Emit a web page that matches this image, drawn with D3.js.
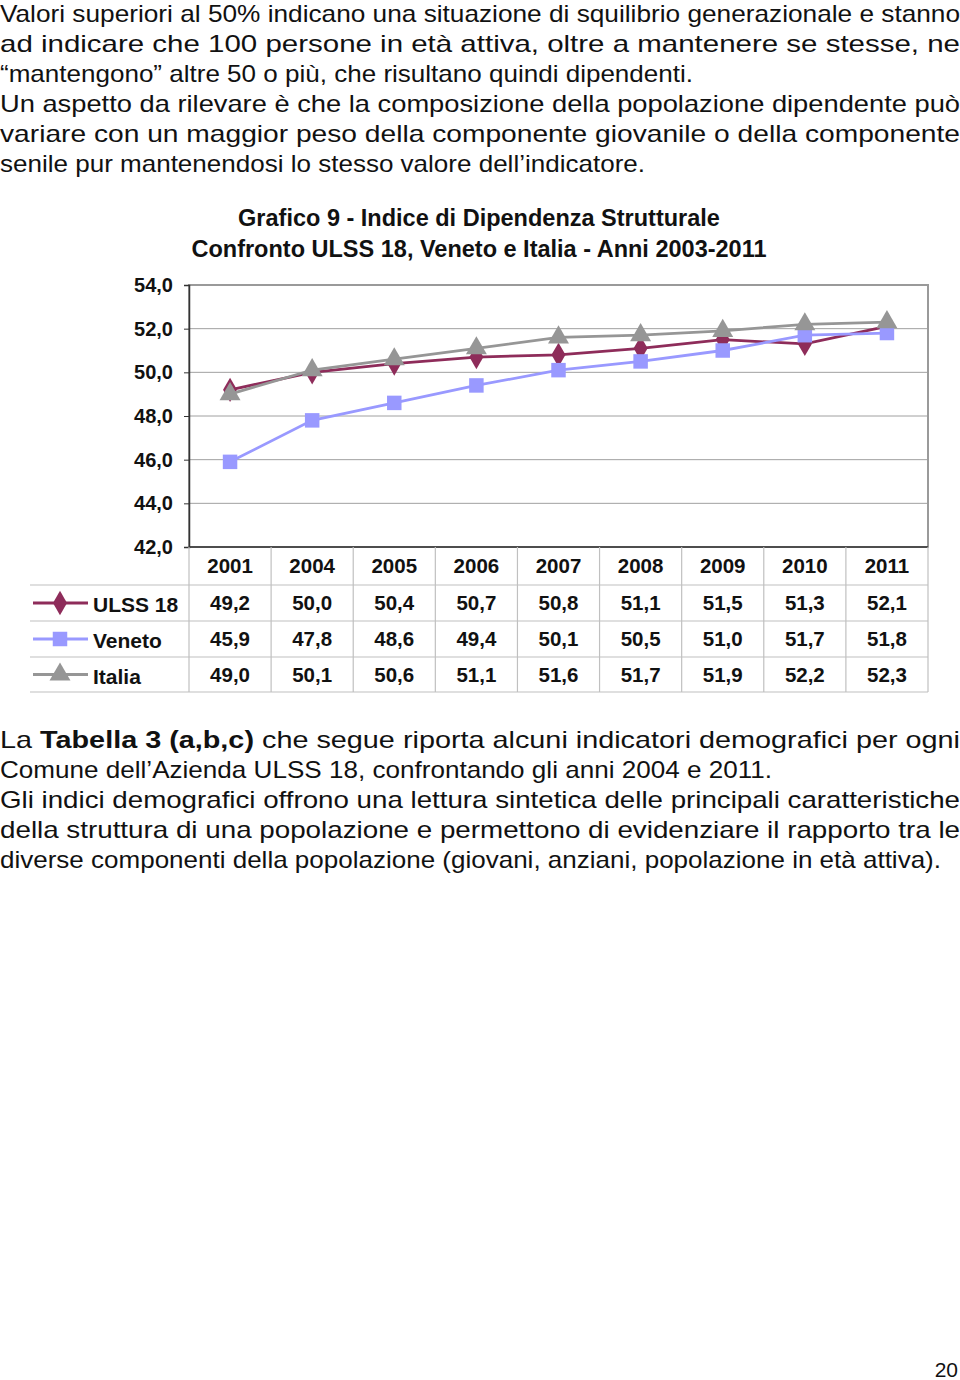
<!DOCTYPE html>
<html><head><meta charset="utf-8">
<script src="https://cdn.jsdelivr.net/npm/d3@7"></script>
<style>
html,body{margin:0;padding:0;background:#fff;}
svg{display:block;font-family:"Liberation Sans",Arial,sans-serif;}
</style></head>
<body>
<svg id="c" width="960" height="1380"></svg>
<script>
const years = ["2001","2004","2005","2006","2007","2008","2009","2010","2011"];
const seriesNames = ["ULSS 18","Veneto","Italia"];
const ulss18 = [49.2,50.0,50.4,50.7,50.8,51.1,51.5,51.3,52.1];
const veneto = [45.9,47.8,48.6,49.4,50.1,50.5,51.0,51.7,51.8];
const italia = [49.0,50.1,50.6,51.1,51.6,51.7,51.9,52.2,52.3];
const yTicks = [42,44,46,48,50,52,54];
const titleLines = ["Grafico 9 - Indice di Dipendenza Strutturale","Confronto ULSS 18, Veneto e Italia - Anni 2003-2011"];
const para1 = [
 ["Valori superiori al 50% indicano una situazione di squilibrio generazionale e stanno",960],
 ["ad indicare che 100 persone in età attiva, oltre a mantenere se stesse, ne",960],
 ["“mantengono” altre 50 o più, che risultano quindi dipendenti.",693],
 ["Un aspetto da rilevare è che la composizione della popolazione dipendente può",960],
 ["variare con un maggior peso della componente giovanile o della componente",960],
 ["senile pur mantenendosi lo stesso valore dell’indicatore.",645]
];
const para2 = [
 [["La ",false],["Tabella 3 (a,b,c)",true],[" che segue riporta alcuni indicatori demografici per ogni",false],960],
 [["Comune dell’Azienda ULSS 18, confrontando gli anni 2004 e 2011.",false],772],
 [["Gli indici demografici offrono una lettura sintetica delle principali caratteristiche",false],960],
 [["della struttura di una popolazione e permettono di evidenziare il rapporto tra le",false],960],
 [["diverse componenti della popolazione (giovani, anziani, popolazione in età attiva).",false],941]
];

const svg = d3.select("#c");
const series = [
  {name:seriesNames[0], values:ulss18, color:"#8e2c5a", shape:d3.symbolDiamond, size:170},
  {name:seriesNames[1], values:veneto, color:"#9999ff", shape:d3.symbolSquare, size:210},
  {name:seriesNames[2], values:italia, color:"#969696", shape:d3.symbolTriangle, size:190}
];

const tFont = 24;
para1.forEach((l,i)=>{
  svg.append("text").attr("x",0).attr("y",22+i*30)
    .attr("font-size",tFont).attr("fill","#111")
    .attr("textLength",l[1]).attr("lengthAdjust","spacingAndGlyphs")
    .text(l[0]);
});
para2.forEach((l,i)=>{
  const w = l[l.length-1];
  const t = svg.append("text").attr("x",0).attr("y",748+i*30)
    .attr("font-size",tFont).attr("fill","#111")
    .attr("textLength",w).attr("lengthAdjust","spacingAndGlyphs");
  l.slice(0,-1).forEach(p=>{
    t.append("tspan").attr("font-weight",p[1]?"bold":"normal").text(p[0]);
  });
});
svg.append("text").attr("x",958).attr("y",1377).attr("text-anchor","end")
  .attr("font-size",21).attr("fill","#111").text("20");

const L=189, R=928, T=285, B=547;
const x = d3.scaleBand().domain(years).range([L,R]);
const y = d3.scaleLinear().domain([42,54]).range([B,T]);

svg.append("g").selectAll("line").data(yTicks).join("line")
  .attr("x1",L).attr("x2",R).attr("y1",d=>y(d)).attr("y2",d=>y(d))
  .attr("stroke","#a0a0a0").attr("stroke-width",1);
svg.append("rect").attr("x",L).attr("y",T).attr("width",R-L).attr("height",B-T)
  .attr("fill","none").attr("stroke","#9a9a9a").attr("stroke-width",2);

const yAxis = svg.append("g").attr("transform",`translate(${L},0)`)
  .call(d3.axisLeft(y).tickValues(yTicks).tickSize(5).tickFormat(d=>d3.format(".1f")(d).replace(".",",")));
yAxis.select(".domain").attr("stroke","#333").attr("stroke-width",1.5);
yAxis.selectAll(".tick line").attr("stroke","#333");
yAxis.selectAll(".tick text").attr("font-size",20).attr("font-weight","bold")
  .attr("font-family","Liberation Sans, Arial, sans-serif").attr("fill","#111").attr("x",-16);
svg.append("line").attr("x1",L).attr("x2",R).attr("y1",B).attr("y2",B).attr("stroke","#333").attr("stroke-width",1.5);

titleLines.forEach((t,i)=>{
  svg.append("text").attr("x",479).attr("y",226+i*31).attr("text-anchor","middle")
    .attr("font-size",23.5).attr("font-weight","bold").attr("fill","#111").text(t);
});

const line = d3.line().x((d,i)=>x(years[i])+x.bandwidth()/2).y(d=>y(d));
series.forEach(s=>{
  svg.append("path").attr("d",line(s.values)).attr("fill","none")
    .attr("stroke",s.color).attr("stroke-width",2.8);
  svg.append("g").selectAll("path").data(s.values).join("path")
    .attr("transform",(d,i)=>`translate(${x(years[i])+x.bandwidth()/2},${y(d)})`)
    .attr("d",d3.symbol().type(s.shape).size(s.size)).attr("fill",s.color);
});

const rowTops=[547,585,621,657,692];
const grid = svg.append("g").attr("stroke","#c0c0c0").attr("stroke-width",1.2);
years.forEach((yr,i)=>{
  grid.append("line").attr("x1",x(yr)).attr("x2",x(yr)).attr("y1",B).attr("y2",692);
});
grid.append("line").attr("x1",R).attr("x2",R).attr("y1",B).attr("y2",692);
rowTops.slice(1).forEach(v=>{
  grid.append("line").attr("x1",30).attr("x2",R).attr("y1",v).attr("y2",v);
});
svg.append("g").selectAll("text").data(years).join("text")
  .attr("x",d=>x(d)+x.bandwidth()/2).attr("y",573).attr("text-anchor","middle")
  .attr("font-size",20.5).attr("font-weight","bold").attr("fill","#111").text(d=>d);
series.forEach((s,k)=>{
  const cy=(rowTops[k+1]+rowTops[k+2])/2;
  svg.append("g").selectAll("text").data(s.values).join("text")
    .attr("x",(d,i)=>x(years[i])+x.bandwidth()/2).attr("y",cy+7).attr("text-anchor","middle")
    .attr("font-size",20.5).attr("font-weight","bold").attr("fill","#111")
    .text(d=>d3.format(".1f")(d).replace(".",","));
  svg.append("line").attr("x1",33).attr("x2",88).attr("y1",cy).attr("y2",cy)
    .attr("stroke",s.color).attr("stroke-width",2.8);
  svg.append("path").attr("transform",`translate(60,${cy})`)
    .attr("d",d3.symbol().type(s.shape).size(s.size)).attr("fill",s.color);
  svg.append("text").attr("x",93).attr("y",cy+9).attr("font-size",21).attr("font-weight","bold")
    .attr("fill","#111").text(s.name);
});
</script>
</body></html>
